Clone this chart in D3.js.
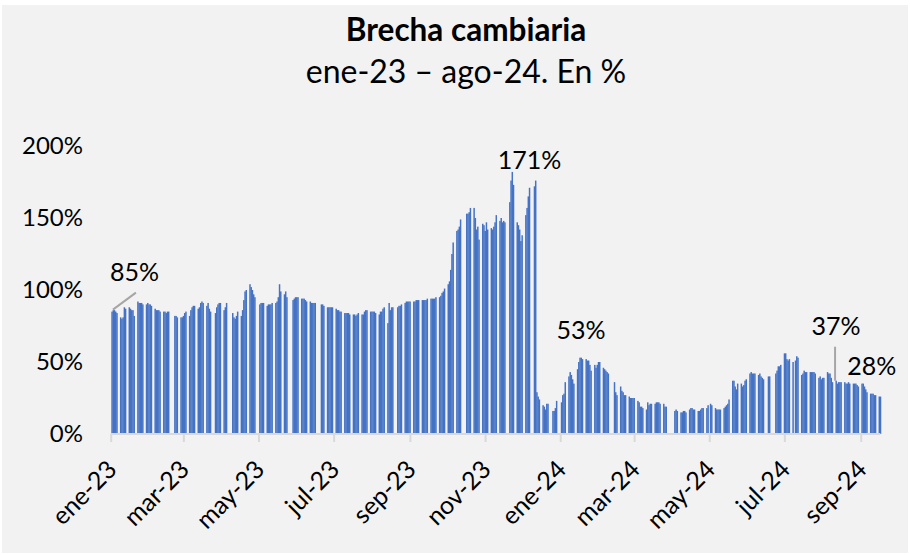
<!DOCTYPE html>
<html>
<head>
<meta charset="utf-8">
<script src="https://cdn.jsdelivr.net/npm/d3@7"></script>
<style>
  body { margin: 0; background: #fff; }
  text { font-family: Lato, "Noto Sans", sans-serif; fill: #000; }
</style>
</head>
<body>
<div id="chart"></div>
<script>
// brecha cambiaria diaria en %, una fila por semana (lun-vie), null = feriado
var lunes2023 = "2023-01-02";
var brecha2023 = [
  [85, 86, 86, 85, 84], [81, 80, 81, 88, 87], [88, 87, 86, 86, 82], [92, 91, 91, 91, 90],
  [90, 91, 90, 90, 89], [87, 86, 86, 86, 85], [85, 85, 84, 85, 85], [null, null, 82, 82, 81],
  [81, 81, 82, 84, 85], [82, 86, 88, 89, 89], [87, 88, 91, 92, 91], [89, 91, 87, 85, null],
  [84, 88, 90, 91, 91], [86, 88, 91, null, null], [84, 81, 80, 82, 85], [82, 86, 93, 99, 100],
  [104, 102, 100, 97, 95], [null, 90, 91, 91, 91], [89, 90, 90, 90, 91], [91, 92, 95, 104, 99],
  [97, 99, 95, null, null], [93, 94, 95, 95, 95], [94, 94, 94, 93, 92], [92, 91, 91, 91, 91],
  [null, null, 90, 90, 89], [88, 88, 88, 88, 88], [87, 86, 86, 85, 85], [84, 84, 84, 84, 83],
  [83, 83, 82, 83, 84], [83, 83, 85, 86, 86], [85, 85, 85, 85, 84], [83, 85, 85, 87, 88],
  [77, 91, 86, 88, 88], [null, 88, 89, 89, 90], [91, 92, 92, 92, 92], [92, 92, 93, 93, 93],
  [93, 93, 93, 93, 94], [94, 94, 94, 94, 95], [95, 96, 98, 99, 101], [104, 106, 114, 125, 133],
  [141, 142, 144, 149, null], [null, 153, 153, 154, 157], [157, 150, 142, 144, 135], [146, 145, 141, 147, 142],
  [143, 142, 144, 147, 152], [148, 150, 147, 148, 147], [null, 161, 176, 182, 173], [147, 145, 142, 134, 138],
  [152, 157, 165, 171, null], [172, 176, 29, 26, 24], [20, 19, 17, 21, 21], [null, 16, 16, 18, 23]
];
var lunes2024 = "2024-01-01";
var brecha2024 = [
  [null, 22, 27, 28, 36], [40, 43, 41, 38, 35], [45, 50, 53, 53, 52], [52, 51, 51, 48, 44],
  [48, 46, 48, 50, 50], [46, 45, 44, 43, 42], [null, null, 36, 29, 27], [33, 30, 29, 27, 27],
  [26, 25, 25, 25, 25], [23, 22, 19, 19, 18], [17, 22, 20, 21, 21], [21, 22, 22, 22, 21],
  [21, 19, 19, null, null], [null, null, 16, 17, 16], [15, 15, 16, 16, 15], [17, 18, 18, 17, 17],
  [16, 16, 17, 18, 18], [18, 20, null, 21, 20], [18, 17, 17, 17, 17], [18, 19, 20, 21, 24],
  [37, 37, 33, 31, 35], [35, 33, 34, 37, 38], [42, 43, 42, 42, 42], [41, 42, 40, 39, 38],
  [null, 40, 40, null, null], [42, 44, 47, 47, 48], [56, 56, 52, 51, 52], [50, null, 51, 54, 53],
  [41, 42, 44, 43, 43], [43, 43, 43, 43, 42], [39, 40, 38, 39, 39], [43, 42, 42, 39, 36],
  [37, 35, 36, 36, 36], [36, 35, 35, 36, 35], [35, 35, 35, 34, 33], [35, 35, 33, 31, 29],
  [28, 28, 28, 27, 27], [26, 26, null, null, null]
];

var meses = ["ene", "feb", "mar", "abr", "may", "jun", "jul", "ago", "sep", "oct", "nov", "dic"];
var yTicks = [0, 50, 100, 150, 200];

// etiquetas de datos
var etiquetaFechas = ["2023-01-02", "2023-12-07", "2024-01-18", "2024-08-12", "2024-09-10"];
var etiquetaTextos = ["85%", "171%", "53%", "37%", "28%"];

var titulo = "Brecha cambiaria";
var subtitulo = "ene-23 \u2013 ago-24. En %";

var width = 910, height = 555;
var parseDay = d3.utcParse("%Y-%m-%d");

function expand(lunes, semanas) {
  var out = [];
  var d0 = parseDay(lunes);
  semanas.forEach(function(sem, w) {
    sem.forEach(function(v, i) {
      if (v === null) return;
      out.push({ fecha: d3.utcDay.offset(d0, w * 7 + i), valor: v });
    });
  });
  return out;
}

var data = expand(lunes2023, brecha2023).concat(expand(lunes2024, brecha2024));

var x = d3.scaleUtc()
    .domain([parseDay("2023-01-01"), parseDay("2024-09-17")])
    .range([110.7, 880.4]);

var y = d3.scaleLinear()
    .domain([0, 200])
    .range([434, 146]);

var dayW = x(parseDay("2023-01-02")) - x(parseDay("2023-01-01"));

var svg = d3.select("#chart").append("svg")
    .attr("width", width)
    .attr("height", height);

svg.append("rect")
    .attr("x", 2)
    .attr("y", 5)
    .attr("width", 906)
    .attr("height", 548)
    .attr("fill", "#f2f2f2");

// TITULOS
svg.append("text")
    .attr("x", 466)
    .attr("y", 41)
    .attr("text-anchor", "middle")
    .style("font-weight", "bold")
    .style("font-size", "31.5px")
    .text(titulo);

svg.append("text")
    .attr("x", 466)
    .attr("y", 83)
    .attr("text-anchor", "middle")
    .style("font-size", "32px")
    .text(subtitulo);

// BARRAS
svg.append("g")
  .selectAll("rect")
  .data(data)
  .enter().append("rect")
    .attr("x", function(d) { return x(d.fecha) - dayW / 2; })
    .attr("width", dayW + 0.25)
    .attr("y", function(d) { return y(d.valor); })
    .attr("height", function(d) { return y(0) - y(d.valor); })
    .attr("fill", "#4472c4");

// EJE X
var xTicks = d3.utcMonth.range(parseDay("2023-01-01"), parseDay("2024-09-02"), 2);

var xAxis = d3.axisBottom(x)
    .tickValues(xTicks)
    .tickSize(8)
    .tickFormat(function(d) {
      return meses[d.getUTCMonth()] + "-" + String(d.getUTCFullYear()).slice(2);
    });

var gx = svg.append("g")
    .attr("transform", "translate(0,434)")
    .call(xAxis);

gx.select(".domain")
    .attr("stroke", "#d9d9d9")
    .attr("stroke-width", 2)
    .attr("d", "M" + x.range()[0] + ",0H" + x.range()[1]);

gx.selectAll(".tick line")
    .attr("stroke", "#d9d9d9")
    .attr("stroke-width", 2);

gx.selectAll(".tick text")
    .attr("y", 0)
    .attr("dy", 0)
    .attr("transform", "translate(7,37) rotate(-45)")
    .attr("text-anchor", "end")
    .attr("fill", "#000")
    .style("font-size", "25px")
    .style("font-family", "Lato, 'Noto Sans', sans-serif");

// EJE Y
var yAxis = d3.axisLeft(y)
    .tickValues(yTicks)
    .tickSize(0)
    .tickPadding(0)
    .tickFormat(function(d) { return d + "%"; });

var gy = svg.append("g")
    .attr("transform", "translate(83,0)")
    .call(yAxis);

gy.select(".domain").remove();

gy.selectAll(".tick text")
    .attr("fill", "#000")
    .style("font-size", "24px")
    .style("font-family", "Lato, 'Noto Sans', sans-serif");

// ETIQUETAS
var porFecha = {};
data.forEach(function(d) { porFecha[+d.fecha] = d.valor; });

etiquetaFechas.forEach(function(f, i) {
  var d = parseDay(f);
  var px = x(d), py = y(porFecha[+d]);
  var tx = px, ty = py - 19, anchor = "middle";

  if (i === 0) {
    // primera etiqueta con linea guia
    tx = px - 2; ty = py - 31; anchor = "start";
    svg.append("line")
        .attr("x1", px + 1).attr("y1", py - 2)
        .attr("x2", px + 24).attr("y2", py - 19)
        .attr("stroke", "#a6a6a6")
        .attr("stroke-width", 2);
  }
  if (i === 3) {
    ty = py - 46;
    svg.append("line")
        .attr("x1", px - 1).attr("y1", py)
        .attr("x2", px - 1).attr("y2", py - 34)
        .attr("stroke", "#a6a6a6")
        .attr("stroke-width", 2);
  }

  svg.append("text")
      .attr("x", tx)
      .attr("y", ty)
      .attr("text-anchor", anchor)
      .style("font-size", "25px")
      .text(etiquetaTextos[i]);
});
</script>
</body>
</html>
